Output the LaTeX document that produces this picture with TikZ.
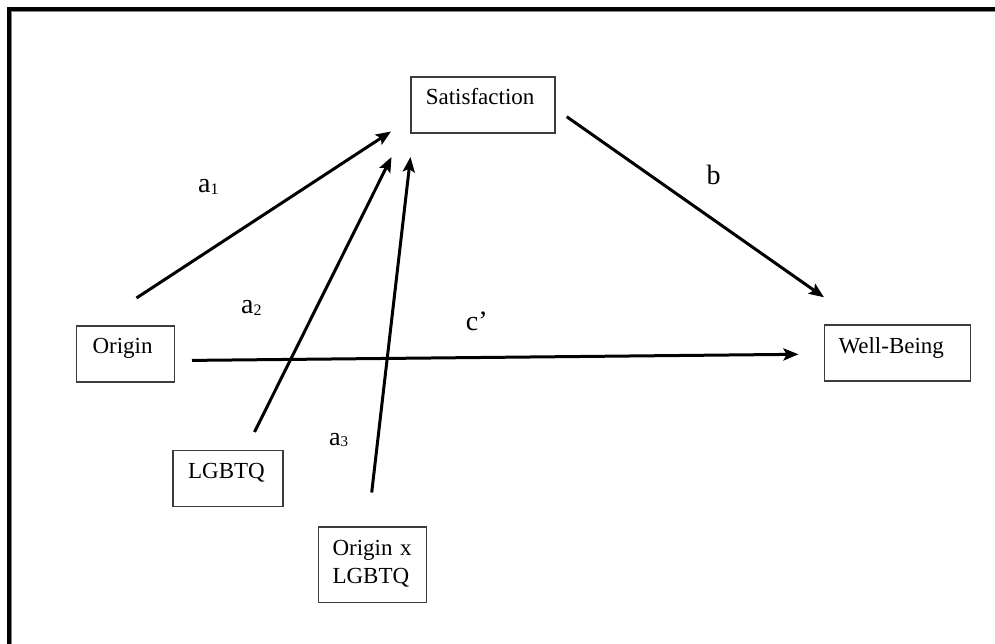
\documentclass[tikz,border=0pt]{standalone}
\usepackage{fontspec}
\setmainfont{Liberation Serif}
\usetikzlibrary{arrows.meta}
\definecolor{boxgray}{RGB}{60,60,60}
\newcommand{\lsub}[2]{\raisebox{-1.8pt}{\fontsize{#2}{#2}\selectfont #1}}
\begin{document}
\begin{tikzpicture}[x=1pt,y=-1pt,
  box/.style={draw=boxgray, line width=1.6pt, anchor=north west, inner ysep=0pt,
    align=left, font=\fontsize{23}{27.7}\selectfont, text height=28pt, text depth=28pt},
  conn/.style={line width=3pt, -{Stealth[length=15pt,width=12pt,inset=3pt]}},
  lab/.style={anchor=base west, inner sep=0pt, font=\fontsize{28}{30}\selectfont}]
\useasboundingbox (0,0) rectangle (995,644);
% frame
\draw[line width=4.4pt, line join=miter] (9.2,644) -- (9.2,9.2) -- (995,9.2);
\draw[gray, line width=0.8pt] (11.8,644) -- (11.8,11.8) -- (995,11.8);
% boxes
\node[box, inner xsep=15pt, text width=114pt] (sat) at (410,76) {Satisfaction};
\node[box, inner xsep=16pt, text width=66pt] (origin) at (75.7,325) {Origin};
\node[box, inner xsep=14pt, text width=118pt] (wb) at (823.7,324.3) {Well-Being};
\node[box, inner xsep=15pt, text width=80pt] (lgbtq) at (172.3,449.7) {LGBTQ};
\node[box, inner xsep=14pt, text width=80pt, text height=28.7pt, text depth=46.7pt] (oxl) at (317.7,526.3) {Origin x\\LGBTQ};
% connector end points
\coordinate (a1s) at (136.5,298);
\coordinate (a1e) at (391,131.5);
\coordinate (a2s) at (254.5,432);
\coordinate (a2e) at (391.5,157);
\coordinate (a3s) at (371.7,492.5);
\coordinate (a3e) at (410.5,157);
\coordinate (bs) at (566.7,116.7);
\coordinate (be) at (824,297.3);
\coordinate (cs) at (192,360.4);
\coordinate (ce) at (798.5,354.3);
\draw[conn] (a1s) -- (a1e);
\draw[conn] (a2s) -- (a2e);
\draw[conn] (a3s) -- (a3e);
\draw[conn] (bs) -- (be);
\draw[conn] (cs) -- (ce);
% labels
\node[lab] (la1) at (198,193) {a\lsub{1}{16}};
\node[lab] (la2) at (241,313.3) {a\lsub{2}{16}};
\node[lab, font=\fontsize{26}{28}\selectfont] (la3) at (329,445) {a\lsub{3}{15}};
\node[lab] (lb) at (706.5,185) {b};
\node[lab] (lc) at (465.7,330.7) {c’};
\end{tikzpicture}
\end{document}
